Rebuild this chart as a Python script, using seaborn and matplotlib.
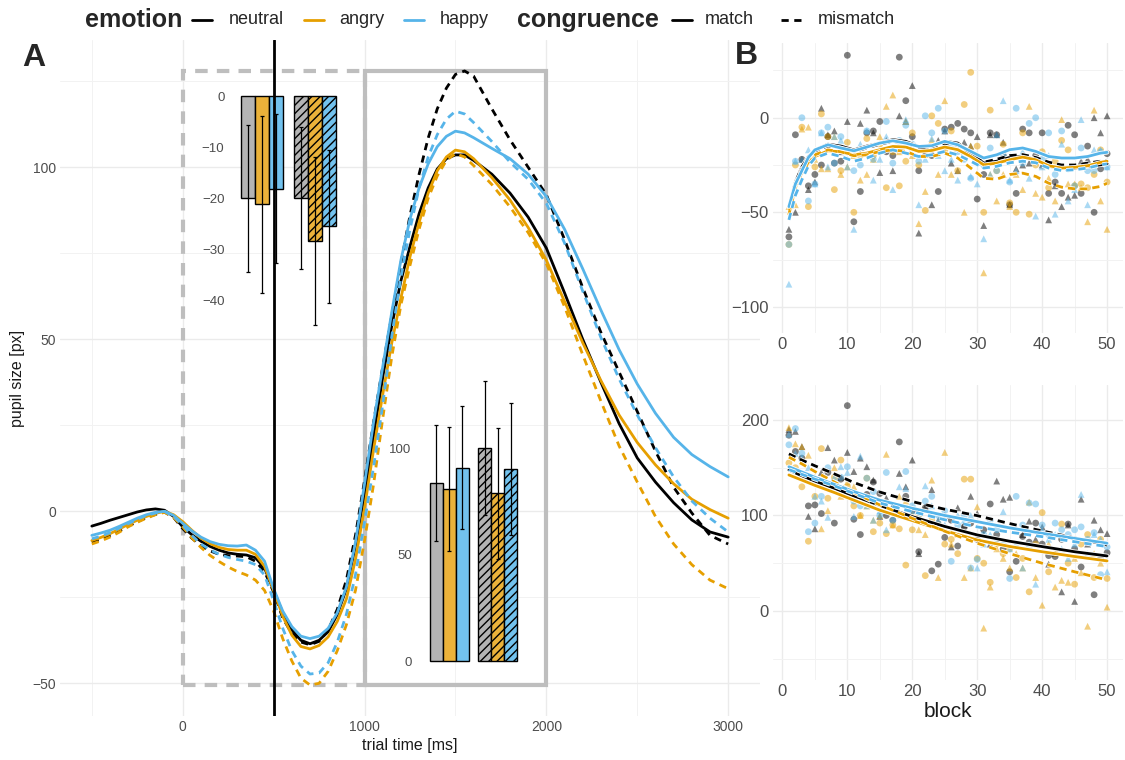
import numpy as np
import pandas as pd
import matplotlib
matplotlib.use("Agg")
import matplotlib.pyplot as plt
import seaborn as sns
from matplotlib.lines import Line2D
from matplotlib.patches import Rectangle
from matplotlib.ticker import MultipleLocator, FixedLocator
import matplotlib.patheffects as pe

# ---------------- data ----------------
EMOTIONS = ["neutral", "angry", "happy"]
CONGRUENCE = ["match", "mismatch"]

time_ms = [-500, -450, -400, -350, -300, -250, -200, -150, -100, -50, 0, 50, 100, 150, 200, 250, 300, 350, 400,
           450, 500, 550, 600, 650, 700, 750, 800, 850, 900, 950, 1000,
           1050, 1100, 1150, 1200, 1250, 1300, 1350, 1400, 1450, 1500, 1550, 1600,
           1700, 1800, 1900, 2000, 2100, 2200, 2300, 2400, 2500, 2600, 2700, 2800, 2900, 3000]

pupil_neutral_match = [-4.3, -3.5, -2.6, -1.8, -1.0, -0.2, 0.4, 0.7, 0.3, -1.5, -4.5, -6.8, -8.7, -10.2, -11.3, -12.1, -12.5, -12.7, -13.5,
                       -16.5, -23, -29.5, -34.5, -37.5, -38.5, -37.5, -35, -30, -22.5, -10, 5,
                       22, 39, 54, 67, 77, 86.5, 94, 99.5, 102.5, 103.6, 103.6, 102,
                       98, 92.5, 85.5, 76.5, 63.5, 50, 37.5, 25.5, 15.5, 8.5, 2.5, -2.5, -6, -7.5]
pupil_neutral_mismatch = [-9, -8.1, -7, -5.7, -4.3, -3, -1.8, -0.9, -0.2, -1.8, -5, -7.8, -10, -11.5, -12.5, -12.9, -13, -13.2, -14.5,
                          -17.5, -23.5, -31, -35.5, -38, -38.8, -37.8, -34.5, -28.5, -20, -7, 9,
                          26, 42, 57, 72, 86, 98, 108.5, 117, 123, 127, 128, 126.5,
                          117, 108, 100, 92, 79, 65, 52, 40.5, 29, 17.5, 7, -0.5, -7, -9.5]
pupil_angry_match = [-8.5, -7.6, -6.5, -5.2, -3.8, -2.6, -1.5, -0.6, 0, -1.0, -3, -5.5, -7.8, -9.4, -10.5, -11.1, -11.3, -11.3, -12.5,
                     -16, -23, -30.5, -36, -39.3, -40, -39, -36.5, -32, -25.5, -14, 1,
                     18, 34, 49, 62, 74, 84, 92.5, 99, 103, 105, 104.5, 102.5,
                     97, 90.5, 82.5, 73, 61, 49, 38, 28, 20, 13.5, 8, 3.5, 0.5, -2]
pupil_angry_mismatch = [-9.5, -8.6, -7.5, -6.1, -4.5, -3.2, -2, -1, -0.3, -1.8, -4.5, -7.7, -10.5, -12.8, -14.6, -16.2, -17.5, -18.5, -20,
                        -23, -29, -37, -43.5, -48.5, -50.5, -50, -46.5, -40.5, -33, -23, -8.5,
                        8, 27, 45, 60, 71.5, 82, 91, 97.5, 102, 104, 103, 100.5,
                        95, 88.5, 81, 72, 59.5, 45.5, 32, 19, 8.5, -1.5, -9.5, -15.5, -20, -22.5]
pupil_happy_match = [-7, -6.3, -5.5, -4.4, -3.2, -2.0, -1.0, -0.3, 0, -1.2, -3.5, -5.7, -7.5, -8.8, -9.6, -10.0, -10.1, -9.8, -11.3,
                     -14.5, -22.5, -29, -33.5, -36.3, -37, -36.3, -34, -29.5, -22, -9, 8,
                     26, 42, 58, 73, 85, 94, 101, 106, 109, 110.5, 110, 108.6,
                     105.5, 102.5, 98, 91.5, 82, 70.5, 58.5, 47, 37, 28.5, 21.5, 16.5, 13, 10]
pupil_happy_mismatch = [-8, -7.2, -6.2, -4.9, -3.6, -2.3, -1.2, -0.5, 0, -1.5, -4, -7, -9.5, -11.2, -12.5, -13.4, -14, -14.5, -15.5,
                        -18.5, -26, -34, -40.5, -45, -47.3, -47, -44, -38, -30, -18.5, -3,
                        13, 31, 51, 68, 82, 94, 103, 109.5, 114, 116.3, 115.5, 113,
                        107.5, 101.5, 96.5, 89.5, 78, 64, 50.5, 38.5, 28, 18.5, 10, 3, -2, -6]

stimulus_onset_ms = 500
baseline_window = (0, 1000)
response_window = (1000, 2000)
window_pupil_range = (-50.5, 128)

# inset bar charts (order: neutral, angry, happy)
early_bar_match = [-20.0, -21.2, -18.1]
early_bar_mismatch = [-20.0, -28.4, -25.5]
early_err_match = [14.4, 17.3, 14.6]
early_err_mismatch = [13.9, 16.5, 15.0]
late_bar_match = [84.0, 81.0, 91.0]
late_bar_mismatch = [100.5, 79.0, 90.6]
late_err_match = [27.2, 29.3, 29.0]
late_err_mismatch = [31.5, 30.7, 31.0]

blocks = list(range(1, 51))

early_neutral_match = [-63, -9, -22, -36, -30, -25, -10, -24, -23, 33, -55, -39, -8, -7, -2, -18, -20, 32, 9, -10,
                       -28, -16, -20, -39, -6, -5, -3, -6, -8, -43, -30, -8, -9, -20, -46, -40, -6, -8, -20, -8,
                       -40, -34, -40, -4, -9, -40, -15, -50, -27, -19]
early_neutral_mismatch = [-59, -50, -22, -38, -34, 5, -9, -7, -18, -2, -18, -3, 4, -8, -29, -12, -28, 1, -2, 17,
                          -61, -18, -46, -12, -7, -24, -28, -13, -15, -10, -57, -9, -9, -13, -46, -27, -25, -24, -22, -25,
                          -54, -36, -47, -42, -41, -23, -22, 0, -8, 1]
early_angry_match = [-67, -25, -5, -47, -26, 2, -10, -38, -28, -13, -50, -20, -11, -20, -14, -37, -18, -36, -23, -8,
                     -25, -49, 1, -3, -17, -7, -28, 7, 24, -15, -50, 4, -28, -14, -45, -50, -8, -51, -25, -18,
                     -37, -23, -12, -17, -36, -35, -37, -30, -17, -34]
early_angry_mismatch = [-47, -46, -6, -5, -22, -27, -27, -10, -30, -26, -20, -33, -30, -22, -10, 6, 12, -18, -2, -20,
                        -56, -39, -12, -30, 9, -30, -16, -50, -15, -20, -82, -30, -44, -30, -47, -30, -38, 6, -40, -42,
                        -32, -44, -1, -35, -35, -37, -55, 4, -44, -59]
early_happy_match = [-67, -23, 0, -44, -35, -8, -5, -24, -10, -18, -28, -25, -7, -22, -18, -2, -24, -12, -4, -14,
                     -23, 1, -8, 5, -7, -14, -18, -22, -32, -24, -25, -16, -28, -20, -34, 5, -24, -3, 0, -22,
                     -8, -30, -7, -27, -36, -16, -28, -28, -18, -26]
early_happy_mismatch = [-88, -23, -22, -17, -35, -8, -26, -10, -12, -26, -59, -14, -7, -33, -22, -10, -38, -14, -1, -16,
                        -46, -22, -11, -20, -28, -22, -33, -18, -31, -35, -64, -30, -9, 9, -33, -28, -18, -32, -52, -26,
                        -20, -51, -14, -44, -38, -1, -46, -17, -17, -26]

late_neutral_match = [184, 167, 160, 110, 111, 102, 145, 92, 138, 215, 96, 80, 122, 135, 123, 100, 95, 177, 120, 105,
                      62, 108, 42, 49, 77, 95, 68, 88, 92, 75, 85, 112, 80, 65, 41, 52, 78, 72, 92, 70,
                      58, 57, 75, 91, 65, 46, 72, 17, 55, 61]
late_neutral_mismatch = [190, 188, 172, 99, 86, 145, 171, 158, 140, 166, 146, 160, 151, 137, 99, 118, 110, 144, 130, 158,
                         60, 109, 127, 95, 100, 67, 108, 90, 120, 102, 80, 70, 136, 117, 119, 85, 80, 94, 75, 88,
                         49, 60, 20, 90, 10, 117, 70, 95, 85, 81]
late_angry_match = [155, 150, 130, 73, 120, 170, 118, 140, 158, 130, 110, 100, 139, 83, 92, 81, 90, 86, 48, 85,
                    100, 37, 95, 90, 70, 75, 60, 138, 138, 55, 50, 30, 70, 60, 65, 35, 55, 20, 70, 103,
                    41, 60, 91, 50, 28, 70, 80, 35, 75, 34]
late_angry_mismatch = [192, 175, 172, 163, 140, 86, 105, 150, 120, 135, 130, 100, 110, 95, 100, 164, 90, 120, 115, 100,
                       85, 80, 137, 35, 166, 70, 80, 35, 45, 109, -18, 25, 65, 55, 45, 60, 45, 114, 35, 6,
                       70, 25, 32, 30, 55, 40, -16, 60, 50, 4]
late_happy_match = [174, 191, 165, 83, 92, 120, 150, 130, 140, 151, 115, 110, 139, 125, 100, 145, 95, 100, 146, 110,
                    95, 115, 120, 100, 105, 52, 90, 100, 45, 54, 80, 95, 85, 70, 34, 120, 90, 113, 112, 90,
                    80, 92, 85, 80, 85, 88, 75, 82, 38, 67]
late_happy_mismatch = [185, 165, 160, 150, 120, 115, 98, 140, 151, 145, 99, 162, 110, 95, 105, 85, 110, 130, 128, 105,
                       100, 131, 110, 95, 90, 85, 100, 95, 100, 45, 70, 80, 75, 104, 65, 70, 45, 70, 28, 85,
                       75, 80, 65, 55, 70, 122, 60, 80, 75, 41]

fit_blocks_early = [1, 2, 3, 4, 5, 7, 9, 11, 13, 15, 17, 19, 21, 23, 25, 27, 29, 31, 33, 35, 37, 39, 41, 43, 45, 47, 49, 50]
fit_early_neutral_match = [-47, -34, -26, -20.5, -17, -14, -15, -17, -15, -13.4, -11.6, -12.5, -15.2, -14.8, -12.5, -13.4,
                           -18.7, -24, -23, -21, -20.5, -22, -25.7, -26.6, -26.6, -25.7, -24.9, -24.3]
fit_early_neutral_mismatch = [-48, -35, -27, -21.5, -18, -15, -16, -18, -16, -14, -12.5, -13.5, -16, -15.5, -13.5, -14.5,
                              -19, -23.5, -22, -20, -19.5, -21, -23.5, -25, -25, -24, -23, -22.5]
fit_early_angry_match = [-51, -37, -29, -24, -20.5, -17.5, -18, -19.6, -18.7, -16.9, -15.2, -15.5, -17.8, -17.3, -15.5,
                         -16.9, -20.5, -24.9, -24, -22.2, -20.8, -22.2, -25.4, -26.6, -26.2, -25.4, -23.6, -23]
fit_early_angry_mismatch = [-48.7, -36, -29, -23.5, -19.6, -17, -18, -20.1, -19.6, -17.8, -17, -17.8, -20.5, -20.5, -18.7,
                            -21.3, -26.6, -32, -32.5, -30, -29.3, -31, -34.6, -36.7, -37.6, -37.6, -36.3, -34.6]
fit_early_happy_match = [-47, -35, -28, -21, -17, -14.3, -16, -17.5, -15.5, -13.4, -12.2, -13.4, -15.2, -14.8, -12.5,
                         -14.3, -17.8, -21.3, -19.6, -16.9, -16, -17.8, -20.5, -21.3, -21.3, -20.5, -18.7, -18.3]
fit_early_happy_mismatch = [-54, -41, -32.8, -25.5, -21.3, -18.7, -20.5, -23, -21.3, -18.7, -17, -18.7, -20.5, -19.6, -17.8,
                            -19.6, -23, -26.6, -25.7, -23.8, -23, -23.8, -26.6, -27.9, -27.5, -26.6, -24.9, -24.4]

fit_blocks_late = [1, 3, 5, 8, 11, 15, 20, 25, 30, 35, 40, 45, 50]
fit_late_neutral_match = [147.6, 141.5, 136, 128.5, 120.5, 110.5, 98.8, 88.5, 79.6, 73, 67.4, 62, 57.6]
fit_late_neutral_mismatch = [164.4, 158, 152, 143.5, 134.5, 124.5, 114.5, 106.5, 99.8, 91.5, 83.8, 76.5, 69]
fit_late_angry_match = [142.4, 137, 131.5, 124, 116, 105.5, 94.6, 84, 74.3, 67.5, 62, 57, 52.4]
fit_late_angry_mismatch = [161, 154, 146, 135, 124, 111, 97, 83.5, 70.9, 60, 50, 41, 32.5]
fit_late_happy_match = [151, 145.5, 140, 132.5, 125, 116, 107.5, 100, 93.5, 87, 81.3, 76, 70.9]
fit_late_happy_mismatch = [148, 143, 138, 131, 123, 113, 104, 95.5, 88, 82.5, 77.8, 72.5, 67.4]

# ---------------- style ----------------
PALETTE = {"neutral": "#000000", "angry": "#E69F00", "happy": "#56B4E9"}
BAR_FILL = {"neutral": "#B4B4B4", "angry": "#EBB23A", "happy": "#72C2EE"}
GRID = "#EBEBEB"
TICK = "#4D4D4D"

sns.set_theme(style="whitegrid")
plt.rcParams["font.family"] = ["Liberation Sans", "DejaVu Sans"]
plt.rcParams["hatch.linewidth"] = 1.0

W, H = 1125, 760


def box(x0, y0, x1, y1):
    return [x0 / W, 1 - y1 / H, (x1 - x0) / W, (y1 - y0) / H]


def long_frame(series, xs, xname, yname):
    rows = []
    for (emo, con), vals in series.items():
        for x, v in zip(xs, vals):
            rows.append((x, v, emo, con))
    return pd.DataFrame(rows, columns=[xname, yname, "emotion", "congruence"])


def clean(ax):
    for s in ax.spines.values():
        s.set_visible(False)
    ax.tick_params(which="both", length=0)


fig = plt.figure(figsize=(11.25, 7.6), dpi=100)
fig.patch.set_facecolor("white")

# ---------------- panel A ----------------
posA = box(60, 40, 760, 716)
axA = fig.add_axes(posA, zorder=1)
axA.set_facecolor("white")
df_main = long_frame({("neutral", "match"): pupil_neutral_match,
                      ("neutral", "mismatch"): pupil_neutral_mismatch,
                      ("angry", "match"): pupil_angry_match,
                      ("angry", "mismatch"): pupil_angry_mismatch,
                      ("happy", "match"): pupil_happy_match,
                      ("happy", "mismatch"): pupil_happy_mismatch},
                     time_ms, "time", "pupil")
sns.lineplot(data=df_main, x="time", y="pupil", hue="emotion", style="congruence",
             hue_order=EMOTIONS, style_order=CONGRUENCE, palette=PALETTE,
             dashes={"match": "", "mismatch": (2.6, 2.0)}, linewidth=2.0,
             errorbar=None, legend=False, ax=axA, zorder=3)
axA.add_patch(Rectangle((baseline_window[0], window_pupil_range[0]),
                        baseline_window[1] - baseline_window[0],
                        window_pupil_range[1] - window_pupil_range[0],
                        fill=False, ec="#BEBEBE", lw=3.0, ls=(0, (3, 2.2)), zorder=1.5))
axA.add_patch(Rectangle((response_window[0], window_pupil_range[0]),
                        response_window[1] - response_window[0],
                        window_pupil_range[1] - window_pupil_range[0],
                        fill=False, ec="#BEBEBE", lw=3.0, zorder=1.6))
axA.set_xlim(-675, 3175)
axA.set_ylim(-59.5, 137)
axA.xaxis.set_major_locator(FixedLocator([0, 1000, 2000, 3000]))
axA.xaxis.set_minor_locator(MultipleLocator(500))
axA.yaxis.set_major_locator(FixedLocator([-50, 0, 50, 100]))
axA.yaxis.set_minor_locator(MultipleLocator(25))
axA.grid(True, which="major", color=GRID, lw=1.0)
axA.grid(True, which="minor", color="#F2F2F2", lw=0.7)
clean(axA)
axA.tick_params(labelsize=10, labelcolor=TICK, pad=3)
axA.set_xlabel("trial time [ms]", fontsize=11.5, color="#1A1A1A", labelpad=3)
axA.set_ylabel("pupil size [px]", fontsize=11.5, color="#1A1A1A", labelpad=5)

# overlay for stimulus-onset line (drawn above insets)
axV = fig.add_axes(posA, zorder=6)
axV.set_xlim(axA.get_xlim())
axV.set_ylim(axA.get_ylim())
axV.axis("off")
axV.axvline(stimulus_onset_ms, color="black", lw=2.0)


def inset_bars(pos, match, mismatch, err_m, err_mm, ylim, yticks, pad):
    ax = fig.add_axes(pos, zorder=4)
    ax.set_facecolor("none")
    rows = []
    for emo, a, b in zip(EMOTIONS, match, mismatch):
        rows.append(("match", emo, a))
        rows.append(("mismatch", emo, b))
    dfb = pd.DataFrame(rows, columns=["congruence", "emotion", "value"])
    sns.barplot(data=dfb, x="congruence", y="value", hue="emotion", order=CONGRUENCE,
                hue_order=EMOTIONS, palette=BAR_FILL, saturation=1, edgecolor="black",
                linewidth=1.0, errorbar=None, legend=False, width=0.8, ax=ax)
    errs = {"match": err_m, "mismatch": err_mm}
    vals = {"match": match, "mismatch": mismatch}
    for i, (cont, emo) in enumerate(zip(ax.containers, EMOTIONS)):
        for bar, con in zip(cont, CONGRUENCE):
            if con == "mismatch":
                bar.set_hatch("////")
            xc = bar.get_x() + bar.get_width() / 2
            ax.errorbar(xc, vals[con][i], yerr=errs[con][i], fmt="none", ecolor="black",
                        elinewidth=0.9, capsize=1.6, capthick=0.9, zorder=5)
    ax.set_xlim(-0.6, 1.6)
    ax.set_ylim(*ylim)
    ax.set_yticks(yticks)
    ax.set_xticks([])
    ax.grid(False)
    clean(ax)
    ax.tick_params(axis="y", labelsize=9.5, labelcolor=TICK, pad=pad)
    ax.set_xlabel("")
    ax.set_ylabel("")
    return ax


inset_bars(box(230, 85, 347, 337), early_bar_match, early_bar_mismatch,
           early_err_match, early_err_mismatch, (-47.2, 2.2), [0, -10, -20, -30, -40], 4)
inset_bars(box(420, 367, 527, 675), late_bar_match, late_bar_mismatch,
           late_err_match, late_err_mismatch, (-6.6, 138.6), [0, 50, 100], 6)

# ---------------- panel B ----------------


def panel_b(pos, series, fits, fit_x, ylim, ymajor, yminor):
    ax = fig.add_axes(pos, zorder=2)
    ax.set_facecolor("none")
    dfp = long_frame(series, blocks, "block", "value")
    sns.scatterplot(data=dfp, x="block", y="value", hue="emotion", style="congruence",
                    hue_order=EMOTIONS, style_order=CONGRUENCE, palette=PALETTE,
                    markers={"match": "o", "mismatch": "^"}, alpha=0.5, s=24,
                    linewidth=0, legend=False, ax=ax, zorder=2)
    dff = long_frame(fits, fit_x, "block", "value")
    sns.lineplot(data=dff, x="block", y="value", hue="emotion", style="congruence",
                 hue_order=EMOTIONS, style_order=CONGRUENCE, palette=PALETTE,
                 dashes={"match": "", "mismatch": (2.6, 1.8)}, linewidth=2.0,
                 errorbar=None, legend=False, ax=ax, zorder=3)
    for ln in ax.lines:
        ln.set_path_effects([pe.Stroke(linewidth=3.2, foreground="white"), pe.Normal()])
    ax.set_xlim(-1.45, 52.45)
    ax.set_ylim(*ylim)
    ax.xaxis.set_major_locator(MultipleLocator(10))
    ax.xaxis.set_minor_locator(MultipleLocator(5))
    ax.yaxis.set_major_locator(MultipleLocator(ymajor))
    ax.yaxis.set_minor_locator(MultipleLocator(yminor))
    ax.grid(True, which="major", color=GRID, lw=1.0)
    ax.grid(True, which="minor", color="#F2F2F2", lw=0.7)
    clean(ax)
    ax.tick_params(labelsize=12, labelcolor=TICK, pad=3)
    ax.set_xlabel("")
    ax.set_ylabel("")
    return ax


axB1 = panel_b(box(773, 43, 1123, 333),
               {("neutral", "match"): early_neutral_match, ("neutral", "mismatch"): early_neutral_mismatch,
                ("angry", "match"): early_angry_match, ("angry", "mismatch"): early_angry_mismatch,
                ("happy", "match"): early_happy_match, ("happy", "mismatch"): early_happy_mismatch},
               {("neutral", "match"): fit_early_neutral_match, ("neutral", "mismatch"): fit_early_neutral_mismatch,
                ("angry", "match"): fit_early_angry_match, ("angry", "mismatch"): fit_early_angry_mismatch,
                ("happy", "match"): fit_early_happy_match, ("happy", "mismatch"): fit_early_happy_mismatch},
               fit_blocks_early, (-113.8, 39.5), 50, 25)
axB2 = panel_b(box(773, 385, 1123, 680),
               {("neutral", "match"): late_neutral_match, ("neutral", "mismatch"): late_neutral_mismatch,
                ("angry", "match"): late_angry_match, ("angry", "mismatch"): late_angry_mismatch,
                ("happy", "match"): late_happy_match, ("happy", "mismatch"): late_happy_mismatch},
               {("neutral", "match"): fit_late_neutral_match, ("neutral", "mismatch"): fit_late_neutral_mismatch,
                ("angry", "match"): fit_late_angry_match, ("angry", "mismatch"): fit_late_angry_mismatch,
                ("happy", "match"): fit_late_happy_match, ("happy", "mismatch"): fit_late_happy_mismatch},
               fit_blocks_late, (-72.3, 236.6), 100, 50)
axB2.set_xlabel("block", fontsize=15, color="#1A1A1A", labelpad=2)

# ---------------- panel letters & legend ----------------
fig.text(22 / W, 1 - 58 / H, "A", fontsize=23, fontweight="bold", va="center", ha="left")
fig.text(735 / W, 1 - 56 / H, "B", fontsize=23, fontweight="bold", va="center", ha="left")

ly = 1 - 20 / H


def key(x0, x1, color, dashed=False):
    fig.add_artist(Line2D([x0 / W, x1 / W], [ly, ly], transform=fig.transFigure,
                          color=color, lw=2.0, ls=(0, (2.6, 2.0)) if dashed else "-"))


fig.text(85 / W, ly, "emotion", fontsize=18, fontweight="bold", va="center", ha="left")
key(192, 212, PALETTE["neutral"])
fig.text(229 / W, ly, "neutral", fontsize=13, va="center", ha="left")
key(304, 324, PALETTE["angry"])
fig.text(339 / W, ly, "angry", fontsize=13, va="center", ha="left")
key(404, 424, PALETTE["happy"])
fig.text(440 / W, ly, "happy", fontsize=13, va="center", ha="left")
fig.text(517 / W, ly, "congruence", fontsize=18, fontweight="bold", va="center", ha="left")
key(672, 692, "black")
fig.text(705 / W, ly, "match", fontsize=13, va="center", ha="left")
key(781, 801, "black", dashed=True)
fig.text(818 / W, ly, "mismatch", fontsize=13, va="center", ha="left")

fig.savefig("out.png", dpi=100, facecolor="white")
